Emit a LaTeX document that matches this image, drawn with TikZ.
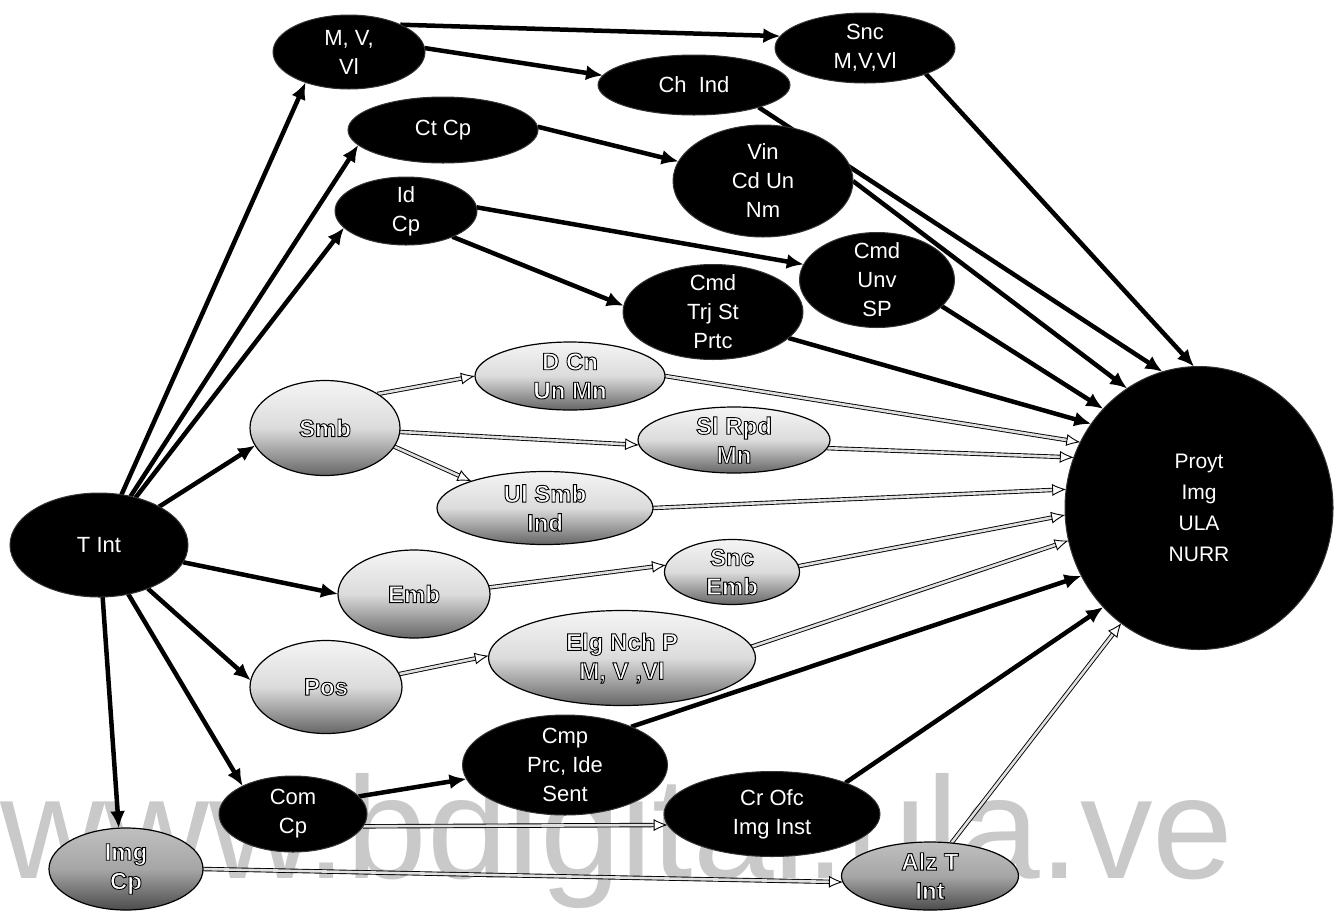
\documentclass[tikz,border=0pt]{standalone}
\usepackage{fontspec}
\setmainfont{Liberation Sans}
\usetikzlibrary{shapes.geometric,arrows.meta}
\pgfdeclarelayer{wm}\pgfdeclarelayer{bg}\pgfsetlayers{wm,bg,main}
\newcommand{\outl}[1]{\special{pdf:literal direct 2 Tr 0.9 w 0 0 0 RG}#1\special{pdf:literal direct 0 Tr}}
\begin{document}
\begin{tikzpicture}[x=1pt,y=-1pt,
  base/.style={ellipse, inner sep=-14pt, outer sep=0pt, align=center, font=\fontsize{22}{29}\selectfont},
  bnode/.style={base, fill=black, draw=black!80, line width=1pt, text=white},
  gnode/.style={base, draw=black, line width=1.2pt, top color=black!4, bottom color=black!60, middle color=black!14, text=white, font=\fontsize{24}{29}\selectfont\bfseries},
  snode/.style={gnode, top color=black!25, bottom color=black!70, middle color=black!35},
  barrow/.style={line width=4.5pt, black, -{Latex[length=17pt,width=15pt]}},
  garrow/.style={line width=0.9pt, draw=black, double=black!12, double distance=2.6pt, -{Latex[open,length=14pt,width=12pt]}},
]
\useasboundingbox (0,0) rectangle (1343,911);
\begin{pgfonlayer}{wm}
  \fill[white] (0,0) rectangle (1343,911);
  \node[anchor=base west, inner sep=0pt, text=black!21, font=\fontsize{145}{145}\selectfont] (wmark) at (0,878) {www.bdigital.ula.ve};
\end{pgfonlayer}

% black nodes
\node[bnode, minimum width=178pt, minimum height=104pt] (tint) at (99,545) {T Int};
\node[bnode, minimum width=152pt, minimum height=74pt] (mvv) at (349,52) {M, V,\\Vl};
\node[bnode, minimum width=180pt, minimum height=70pt] (sncm) at (865,48) {Snc\\M,V,Vl};
\node[bnode, minimum width=192pt, minimum height=60pt] (chind) at (694,85) {Ch\ \ Ind};
\node[bnode, minimum width=190pt, minimum height=66pt] (ctcp) at (443,130) {Ct Cp};
\node[bnode, minimum width=180pt, minimum height=112pt] (vin) at (763,181) {Vin\\Cd Un\\Nm};
\node[bnode, minimum width=142pt, minimum height=68pt] (idcp) at (406,211) {Id\\Cp};
\node[bnode, minimum width=155pt, minimum height=95pt] (cmdu) at (877,280) {Cmd\\Unv\\SP};
\node[bnode, minimum width=180pt, minimum height=95pt] (cmdt) at (713,312) {Cmd\\Trj St\\Prtc};
\node[bnode, minimum width=268pt, minimum height=283pt, font=\fontsize{21}{31}\selectfont] (proyt) at (1199,508) {Proyt\\Img\\ULA\\NURR};
\node[bnode, minimum width=205pt, minimum height=100pt] (cmp) at (565,765) {Cmp\\Prc, Ide\\Sent};
\node[bnode, minimum width=148pt, minimum height=76pt] (comcp) at (293,814) {Com\\Cp};
\node[bnode, minimum width=216pt, minimum height=85pt] (crofc) at (772,814) {Cr Ofc\\Img Inst};

% gray nodes
\node[gnode, minimum width=150pt, minimum height=95pt] (smb) at (325,428) {\outl{Smb}};
\node[gnode, minimum width=190pt, minimum height=68pt] (dcn) at (570,376) {\outl{D Cn}\\\outl{Un Mn}};
\node[gnode, minimum width=192pt, minimum height=66pt] (slr) at (734,440) {\outl{Sl Rpd}\\\outl{Mn}};
\node[gnode, minimum width=216pt, minimum height=73pt] (ulsmb) at (545,508) {\outl{Ul Smb}\\\outl{Ind}};
\node[gnode, minimum width=152pt, minimum height=88pt] (emb) at (414,594) {\outl{Emb}};
\node[gnode, minimum width=135pt, minimum height=65pt] (sncemb) at (732,572) {\outl{Snc}\\\outl{Emb}};
\node[gnode, minimum width=152pt, minimum height=93pt] (pos) at (326,687) {\outl{Pos}};
\node[gnode, minimum width=267pt, minimum height=95pt] (elg) at (622,658) {\outl{Elg Nch P}\\\outl{M, V ,Vl}};
\node[snode, minimum width=154pt, minimum height=82pt] (imgcp) at (126,869) {\outl{Img}\\\outl{Cp}};
\node[snode, minimum width=177pt, minimum height=68pt] (alz) at (930,876) {\outl{Alz T}\\\outl{Int}};

\begin{pgfonlayer}{bg}
  % from T Int
  \draw[barrow] (tint) -- (mvv.215);
  \draw[barrow] (tint) -- (ctcp.190);
  \draw[barrow] (tint) -- (idcp.195);
  \draw[barrow] (tint) -- (smb.194);
  \draw[barrow] (tint) -- (emb.180);
  \draw[barrow] (tint) -- (pos.175);
  \draw[barrow] (tint) -- (comcp.151);
  \draw[barrow] (tint) -- (imgcp.100);
  % second level
  \draw[barrow] (mvv.28) -- (sncm.172);
  \draw[barrow] (mvv.3) -- (chind.174);
  \draw[barrow] (ctcp.2) -- (vin.167);
  \draw[barrow] (idcp.3) -- (cmdu.168);
  \draw[barrow] (idcp.-29) -- (cmdt.176);
  \draw[barrow] (comcp.15) -- (cmp.188);
  \draw[garrow] (smb.33) -- (dcn.180);
  \draw[garrow] (smb.-3) -- (slr.183);
  \draw[garrow] (smb.-15) -- (ulsmb.160);
  \draw[garrow] (emb.5) -- (sncemb.174);
  \draw[garrow] (pos.10) -- (elg.179);
  \draw[garrow] (comcp.-10) -- (crofc.186);
  \draw[garrow] (imgcp.0) -- (alz.184);
  % to Proyt
  \draw[barrow] (sncm.-23) -- (proyt.92);
  \draw[barrow] (chind.-19) -- (proyt.105);
  \draw[barrow] (vin.0) -- (proyt.121);
  \draw[barrow] (cmdu.-22) -- (proyt.134);
  \draw[barrow] (cmdt.-19) -- (proyt.142);
  \draw[garrow] (dcn.0) -- (proyt.151);
  \draw[garrow] (slr.-5) -- (proyt.158);
  \draw[garrow] (ulsmb.0) -- (proyt.172);
  \draw[garrow] (sncemb.5) -- (proyt.183);
  \draw[garrow] (elg.5) -- (proyt.194);
  \draw[barrow] (cmp.30) -- (proyt.210);
  \draw[barrow] (crofc.23) -- (proyt.226);
  \draw[garrow] (alz.57) -- (proyt.236);
\end{pgfonlayer}
\end{tikzpicture}
\end{document}
